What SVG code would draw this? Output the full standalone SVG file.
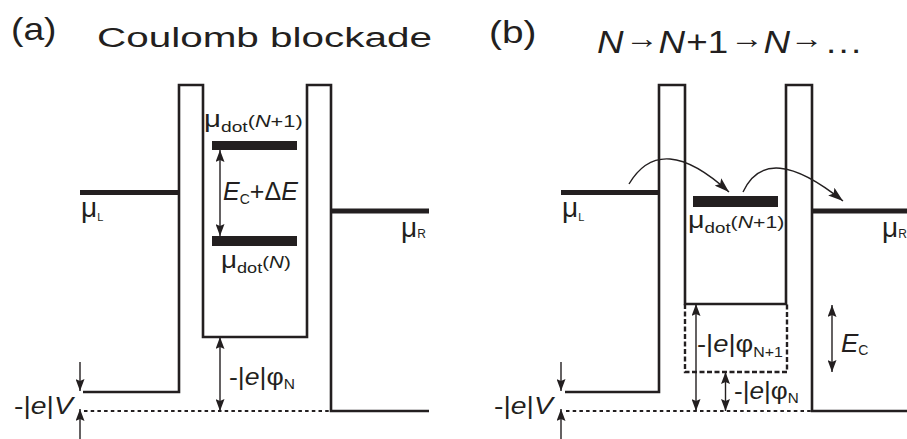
<svg xmlns="http://www.w3.org/2000/svg" width="907" height="439" viewBox="0 0 907 439">
<style>
 .ln{fill:none;stroke:#231f20;stroke-width:2.6;stroke-linejoin:miter}
 .lead{fill:none;stroke:#231f20;stroke-width:5}
 .dotl{fill:none;stroke:#231f20;stroke-width:2;stroke-dasharray:3.5 3.2}
 .dash{fill:none;stroke:#231f20;stroke-width:2.4;stroke-dasharray:5 2.5}
 .lvl{fill:#231f20}
 .arr{fill:none;stroke:#231f20;stroke-width:1.4}
 .dbl{marker-start:url(#ah);marker-end:url(#ah)}
 .one{marker-end:url(#ah)}
 .crv{fill:none;stroke:#231f20;stroke-width:1.4;marker-end:url(#ahc)}
 .t{font-family:"Liberation Sans",Arial,sans-serif;fill:#231f20}
 .i{font-style:italic}
</style>
<defs>
 <marker id="ah" viewBox="0 0 12 9" markerWidth="12" markerHeight="9" markerUnits="userSpaceOnUse" refX="12" refY="4.5" orient="auto-start-reverse"><path d="M0,0 L12,4.5 L0,9 L2,4.5 z" fill="#231f20"/></marker>
 <marker id="ahc" viewBox="0 0 15 10" markerWidth="15" markerHeight="10" markerUnits="userSpaceOnUse" refX="15" refY="5" orient="auto"><path d="M0,0 L15,5 L0,10 L3,5 z" fill="#231f20"/></marker>
</defs>

<g id="panel-a">
 <g id="a-profile">
  <path class="ln" d="M83,392 H179 V85 H203 V337 H307 V85 H331 V411 H429"/>
  <path class="lead" d="M80,192.5 H179"/>
  <path class="lead" d="M331,211 H429"/>
  <path class="dotl" d="M84,411 H331"/>
 </g>
 <g id="a-level-n1"><rect class="lvl" x="212" y="141" width="85" height="9"/></g>
 <g id="a-level-n"><rect class="lvl" x="212" y="236" width="85" height="10"/></g>
 <g id="a-connectors">
  <path class="arr dbl" d="M220,150 V236"/>
  <path class="arr dbl" d="M220,337 V411"/>
  <path class="arr one" d="M80,362 V391"/>
  <path class="arr one" d="M80,439 V409"/>
 </g>
 <g id="a-labels">
  <text class="t" font-size="31" transform="translate(11,40) scale(1.2,1)">(a)</text>
  <text class="t" font-size="28" transform="translate(97,47) scale(1.445,1)">Coulomb blockade</text>
  <text class="t" transform="translate(204,127) scale(1.28,1)"><tspan font-size="23">μ</tspan><tspan font-size="15" dy="5">dot</tspan><tspan font-size="17" dy="-5">(</tspan><tspan class="i" font-size="17">N</tspan><tspan font-size="17">+1)</tspan></text>
  <text class="t" x="223" y="200" font-size="25"><tspan class="i">E</tspan><tspan font-size="14" dy="4">C</tspan><tspan dy="-4">+Δ</tspan><tspan class="i">E</tspan></text>
  <text class="t" transform="translate(221,268) scale(1.21,1)"><tspan font-size="23">μ</tspan><tspan font-size="15" dy="5">dot</tspan><tspan font-size="17" dy="-5">(</tspan><tspan class="i" font-size="17">N</tspan><tspan font-size="17">)</tspan></text>
  <text class="t" x="81" y="217"><tspan font-size="28">μ</tspan><tspan font-size="11" dy="4">L</tspan></text>
  <text class="t" x="401" y="237"><tspan font-size="28">μ</tspan><tspan font-size="12" dy="1">R</tspan></text>
  <text class="t" font-size="24" transform="translate(14,414) scale(1.18,1)">-|<tspan class="i">e</tspan>|<tspan class="i">V</tspan></text>
  <text class="t" font-size="24" transform="translate(229,385) scale(1.11,1)">-|<tspan class="i">e</tspan>|φ<tspan font-size="14" dy="4">N</tspan></text>
 </g>
</g>

<g id="panel-b">
 <g id="b-profile">
  <path class="ln" d="M565,392 H659 V85 H685 V304 H786 V85 H812 V411 H907"/>
  <path class="dash" d="M685,304 V372 H787 V304"/>
  <path class="lead" d="M561,192.5 H659"/>
  <path class="lead" d="M812,211 H907"/>
  <path class="dotl" d="M566,411 H812"/>
 </g>
 <g id="b-level-n1"><rect class="lvl" x="693" y="196" width="85" height="11"/></g>
 <g id="b-connectors">
  <path class="crv" d="M629,184 Q661,130 729,192"/>
  <path class="crv" d="M743,192 Q767,140 843,201"/>
  <path class="arr dbl" d="M696,304 V411"/>
  <path class="arr dbl" d="M725.5,372 V411"/>
  <path class="arr dbl" d="M832,305 V372"/>
  <path class="arr one" d="M561,362 V391"/>
  <path class="arr one" d="M561,439 V409"/>
 </g>
 <g id="b-labels">
  <text class="t" font-size="31" transform="translate(489,43) scale(1.25,1)">(b)</text>
  <text class="t" font-size="32" transform="translate(0,53) scale(1.15,1)"><tspan class="i" x="519.1">N</tspan><tspan x="543.6" font-size="29" dy="-5.3">→</tspan><tspan class="i" x="572.6" dy="5.3">N</tspan><tspan x="596.8">+1</tspan><tspan x="634.9" font-size="29" dy="-5.3">→</tspan><tspan class="i" x="664" dy="5.3">N</tspan><tspan x="687" font-size="29" dy="-5.3">→</tspan><tspan x="718.3" dy="5.3" letter-spacing="2">...</tspan></text>
  <text class="t" x="562" y="217"><tspan font-size="28">μ</tspan><tspan font-size="11" dy="4">L</tspan></text>
  <text class="t" transform="translate(688,228) scale(1.25,1)"><tspan font-size="23">μ</tspan><tspan font-size="15" dy="5">dot</tspan><tspan font-size="17" dy="-5">(</tspan><tspan class="i" font-size="17">N</tspan><tspan font-size="17">+1)</tspan></text>
  <text class="t" x="882" y="237"><tspan font-size="28">μ</tspan><tspan font-size="12" dy="1">R</tspan></text>
  <text class="t" font-size="24" transform="translate(494,414) scale(1.18,1)">-|<tspan class="i">e</tspan>|<tspan class="i">V</tspan></text>
  <text class="t" font-size="24" transform="translate(697,352) scale(1.14,1)">-|<tspan class="i">e</tspan>|φ<tspan font-size="14" dy="5">N+1</tspan></text>
  <text class="t" font-size="24" transform="translate(734,399) scale(1.09,1)">-|<tspan class="i">e</tspan>|φ<tspan font-size="14" dy="4">N</tspan></text>
  <text class="t" x="841" y="352"><tspan class="i" font-size="26">E</tspan><tspan font-size="14" dy="3">C</tspan></text>
 </g>
</g>
</svg>
